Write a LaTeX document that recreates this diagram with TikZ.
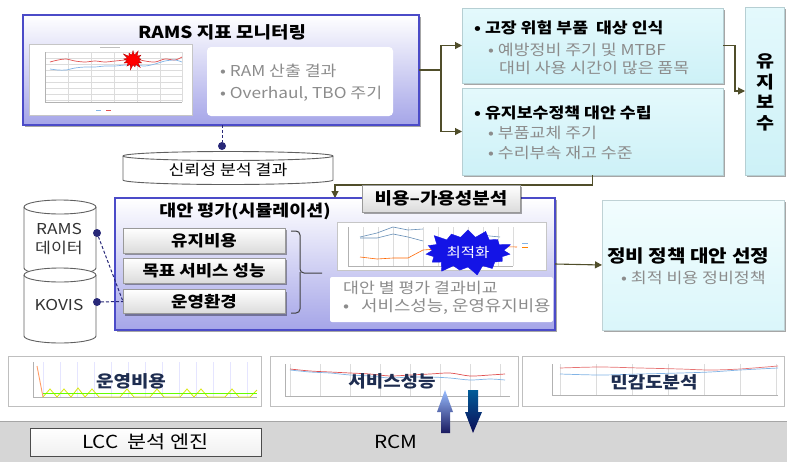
\documentclass[tikz,border=0pt]{standalone}
\usepackage{fontspec}
\setmainfont{Noto Sans CJK KR}[FakeStretch=1.15]
\usetikzlibrary{arrows.meta,shapes.symbols,shadows,calc}
\definecolor{bluebd}{RGB}{75,75,200}
\definecolor{lav}{RGB}{165,165,232}
\definecolor{cyanA}{RGB}{228,249,252}
\definecolor{cyanB}{RGB}{205,241,247}
\definecolor{cyanC}{RGB}{242,253,254}
\definecolor{cyanD}{RGB}{218,246,250}
\definecolor{olive}{RGB}{80,78,42}
\definecolor{navy}{RGB}{40,40,120}
\definecolor{graytxt}{RGB}{140,140,140}
\definecolor{paneltxt}{RGB}{30,45,80}
\definecolor{barbg}{RGB}{214,214,214}
\definecolor{gridc}{RGB}{220,220,220}
\definecolor{redl}{RGB}{225,80,80}
\definecolor{bluel}{RGB}{130,180,230}
\definecolor{burstblue}{RGB}{20,20,230}
\tikzset{
  rg/.style={font=\fontsize{#1}{#1}\selectfont, inner sep=0pt},
  bft/.style={font=\fontsize{#1}{#1}\selectfont\bfseries, inner sep=0pt},
  shad/.style={drop shadow={shadow xshift=2pt,shadow yshift=-2pt,opacity=.35,fill=black}},
  bluebox/.style={draw=bluebd, line width=1.2pt, top color=white, bottom color=lav, inner sep=0pt, outer sep=0pt, shad},
  cyanbox/.style={draw=cyanB!70!gray, line width=.3pt, top color=cyanA, bottom color=cyanB, inner sep=0pt, outer sep=0pt, shad},
  cyanbox2/.style={draw=cyanD!70!gray, line width=.3pt, top color=cyanC, bottom color=cyanD, inner sep=0pt, outer sep=0pt, shad},
  graybox/.style={draw=gray!80, line width=.6pt, top color=white, bottom color=gray!28, inner sep=0pt, outer sep=0pt, shad},
  whitebox/.style={fill=white, rounded corners=4pt, inner sep=0pt, outer sep=0pt},
  chartbox/.style={draw=gray!45, fill=white, line width=.5pt, inner sep=0pt, outer sep=0pt},
  panel/.style={draw=gray!50, fill=white, line width=.6pt, inner sep=0pt, outer sep=0pt},
  conn/.style={draw=olive, line width=1.1pt},
  arr/.style={conn, -{Triangle[length=7pt,width=7pt]}},
  dashconn/.style={draw=navy, line width=1pt, dash pattern=on 3pt off 2pt},
  dotn/.style={circle, fill=navy, inner sep=0pt, minimum size=8pt, outer sep=0pt},
  cylst/.style={draw=gray!75!black, line width=.9pt, fill=white},
  gridl/.style={draw=gridc, line width=.3pt},
}
\newcommand\mycyl[5]{% cx, top, bottom, rx, ry
  \path[cylst] (#1-#4,#2) -- (#1-#4,#3) arc[start angle=180,end angle=0,x radius=#4,y radius=#5]
     -- (#1+#4,#2) arc[start angle=0,end angle=-180,x radius=#4,y radius=#5] -- cycle;
  \draw[cylst, fill=none] (#1-#4,#2) arc[start angle=180,end angle=0,x radius=#4,y radius=#5];
}
\begin{document}
\begin{tikzpicture}[x=1pt,y=-1pt]
\useasboundingbox (0,0) rectangle (787,461);

% ---------------- RAMS monitoring box
\node[bluebox, minimum width=396, minimum height=110] (rams) at (221,70) {};
\node[bft=16.5] (ramsT) at (222,32) {RAMS 지표 모니터링};
\node[chartbox, minimum width=163, minimum height=71] (ch1) at (110.5,79.5) {};
\foreach \x in {45,68,91,114,137,160,182} \draw[gridl] (\x,52) -- (\x,102);
\foreach \y in {52,58,64,70,76,82,88,94,100} \draw[gridl] (45,\y) -- (182,\y);
\draw[gray!60, line width=.3pt] (45,52) -- (45,102) -- (182,102);
\draw[redl, line width=.7pt] plot[smooth] coordinates {(50,62)(58,60)(66,59)(75,61)(85,62)(95,61)(105,62)(115,61)(125,60)(135,59)(145,61)(155,62)(165,59)(175,60)(182,57)};
\draw[bluel, line width=.7pt] plot[smooth] coordinates {(50,69)(58,70)(66,70)(75,68)(85,67)(95,67)(105,66)(115,66)(125,65)(135,65)(145,66)(155,64)(165,61)(175,60)(182,62)};
\draw[bluel, line width=.6pt] (96,110) -- (101,110);
\draw[redl, line width=.6pt] (106,110) -- (111,110);
\draw[gray!50, line width=.5pt] (100,47) -- (120,47);
\node[starburst, fill=red, draw=red!70!black, line width=.3pt, minimum width=24pt, minimum height=22pt, starburst point height=6pt, starburst points=13] (burst1) at (133,60) {};
\node[whitebox, minimum width=186, minimum height=69] (ramsW) at (300,81.5) {};
\node[rg=15, text=graytxt, anchor=west] (ramsA) at (220,71) {• RAM 산출 결과};
\node[rg=15, text=graytxt, anchor=west] (ramsB) at (220,94) {• Overhaul, TBO 주기};

% dot + reliability cylinder
\node[dotn] (d0) at (222,146) {};
\draw[dashconn] (d0 |- rams.south) -- (d0);
\mycyl{228}{156}{180}{105}{4.5}
\node[rg=15] (rel) at (228,170) {신뢰성 분석 결과};

% ---------------- right top boxes
\node[cyanbox, minimum width=261, minimum height=75] (top) at (592.5,45.5) {};
\node[cyanbox, minimum width=261, minimum height=87] (bot) at (592.5,131.5) {};
\node[cyanbox, minimum width=39, minimum height=168] (ujb) at (764.5,91) {};
\node[bft=15, anchor=west] (topA) at (474,28) {• 고장 위험 부품 \ 대상 인식};
\node[rg=15, text=graytxt, anchor=west] (topB) at (488,50) {• 예방정비 주기 및 MTBF};
\node[rg=15, text=graytxt, anchor=west] (topC) at (499,68) {대비 사용 시간이 많은 품목};
\node[bft=15, anchor=west] (botA) at (474,113) {• 유지보수정책 대안 수립};
\node[rg=15, text=graytxt, anchor=west] (botB) at (488,133) {• 부품교체 주기};
\node[rg=15, text=graytxt, anchor=west] (botC) at (488,153) {• 수리부속 재고 수준};
\node[bft=17] (u1) at (765,61) {유};
\node[bft=17] (u2) at (765,82) {지};
\node[bft=17] (u3) at (765,102) {보};
\node[bft=17] (u4) at (765,123) {수};

% connectors top
\coordinate (br) at (441,70);
\draw[conn] (rams.east) -- (br);
\draw[arr] (br) |- (top.west);
\draw[arr] (br) |- (bot.west);
\draw[arr] (top.east) -- ++(12,0) |- (ujb.west);
\coordinate (evalin) at (335,198);
\draw[arr] (bot.south) -- ++(0,10) -| (evalin);

% ---------------- evaluation box
\node[bluebox, minimum width=440, minimum height=132] (eval) at (335,264) {};
\node[graybox, minimum width=158, minimum height=27] (cost) at (441,198.5) {};
\node[bft=16.5] (costT) at (441,198.5) {비용–가용성분석};
\node[bft=16] (evalT) at (245,211) {대안 평가(시뮬레이션)};
\node[graybox, minimum width=162, minimum height=25] (s1) at (204,240.5) {};
\node[graybox, minimum width=162, minimum height=25] (s2) at (204,270.5) {};
\node[graybox, minimum width=162, minimum height=24] (env) at (204,301.5) {};
\node[bft=15.5] at (s1) {유지비용};
\node[bft=15.5] at (s2) {목표 서비스 성능};
\node[bft=15.5] at (env) {운영환경};
\draw[black!75, line width=1pt, rounded corners=4pt] (291,231) -- (300,231) -- (300,273) -- (322,273);
\draw[black!75, line width=1pt, rounded corners=4pt] (300,272) -- (300,313) -- (291,313);
% chart in eval
\node[chartbox, minimum width=209, minimum height=48] (ch2) at (441.5,246) {};
\foreach \x in {348,363,378,393,408,423,438,453,468,483,498,513} \draw[gridl] (\x,227) -- (\x,266);
\draw[gray!60, line width=.3pt] (348,227) -- (348,266) -- (513,266);
\draw[bluel!80!black, line width=.6pt] (360,237) -- (377,233) -- (393,227) -- (408,230) -- (423,229);
\draw[bluel!80!black, line width=.6pt] (360,238) -- (377,238) -- (393,234) -- (408,237) -- (423,241);
\draw[orange!80!red, line width=.6pt] (360,257) -- (377,259) -- (393,258) -- (408,258) -- (423,250) -- (480,246) -- (517,247);
\draw[bluel!80!black, line width=.6pt] (480,235) -- (500,237);
\draw[bluel, line width=.6pt] (522,243) -- (528,243);
\draw[orange, line width=.6pt] (522,247) -- (528,247);
\node[starburst, fill=burstblue, draw=burstblue, minimum width=92pt, minimum height=50pt, starburst point height=10pt, starburst points=15] (burst2) at (468,252) {};
\node[rg=13.5, text=white] (opt) at (468,252) {최적화};
\node[whitebox, rounded corners=2pt, minimum width=223, minimum height=45] (evalW) at (441.5,299.5) {};
\node[rg=15, text=graytxt, anchor=west] (evalA) at (343,288) {대안 별 평가 결과비교};
\node[rg=15.5, text=graytxt, anchor=west] (evalB) at (343,307) {• \ \ 서비스성능, 운영유지비용};

% ---------------- cylinders
\mycyl{60}{207}{268}{36}{7}
\mycyl{60}{275}{336}{36}{7}
\node[rg=15, text=black!80] (cR1) at (59,229) {RAMS};
\node[rg=15, text=black!80] (cR2) at (59,248) {데이터};
\node[rg=15, text=black!80] (cK) at (59,305) {KOVIS};
\node[dotn] (d1) at (97,233) {};
\node[dotn] (d2) at (97,302) {};
\draw[dashconn] (d1) -- (env.west);
\draw[dashconn] (d2) -- (env.west);

% ---------------- policy box
\node[cyanbox2, minimum width=182, minimum height=130] (pol) at (693,265) {};
\draw[arr] (eval.east) -- (pol.west);
\node[bft=17.5, anchor=west] (polA) at (607,256) {정비 정책 대안 선정};
\node[rg=15, text=graytxt, anchor=west] (polB) at (621,278) {• 최적 비용 정비정책};

% ---------------- bottom panels
\node[panel, minimum width=253, minimum height=50] (p1) at (134.5,381) {};
\node[panel, minimum width=248, minimum height=50] (p2) at (394,381) {};
\node[panel, minimum width=262, minimum height=50] (p3) at (653,381) {};
% p1 chart
\foreach \x in {43,60,77,94,111,128,145,162,179,196,213,230,247} \draw[gridl, draw=blue!10] (\x,362) -- (\x,397);
\draw[gray!60, line width=.3pt] (33,362) -- (33,397) -- (257,397);
\draw[orange!70!red!60, line width=.9pt] (37,366) -- (43,397);
\draw[yellow!85!green, line width=.8pt] (43,397) -- (50,389) -- (57,397) -- (64,389) -- (71,397) -- (78,388) -- (85,397) -- (92,389) -- (99,397) -- (120,397) -- (127,389) -- (134,397) -- (150,397) -- (157,389) -- (164,397) -- (180,397) -- (187,389) -- (194,397) -- (201,389) -- (208,397) -- (225,397) -- (232,389) -- (239,397) -- (250,397) -- (257,390);
\draw[green!60!yellow, line width=.6pt] (43,393) -- (257,393);
% p2 chart
\foreach \x in {290,320,350,380,410,440,470,500} \draw[gridl] (\x,364) -- (\x,396);
\draw[gray!60, line width=.3pt] (285,364) -- (285,396) -- (510,396);
\draw[redl, line width=.7pt] plot[smooth] coordinates {(290,369)(310,371)(330,372)(350,373)(370,374)(390,376)(410,375)(430,374)(450,373)(470,376)(490,375)(505,374)};
\draw[bluel, line width=.7pt] plot[smooth] coordinates {(290,370)(310,372)(330,373)(350,375)(370,376)(390,378)(410,377)(430,377)(450,378)(470,380)(490,379)(505,380)};
% p3 chart
\foreach \x in {560,596,632,668,704,740,776} \draw[gridl] (\x,364) -- (\x,395);
\draw[gray!60, line width=.3pt] (552,364) -- (552,395) -- (778,395);
\draw[redl!80, line width=.7pt] plot[smooth] coordinates {(560,368)(600,367)(640,368)(680,369)(710,370)(740,369)(778,366)};
\draw[bluel, line width=.7pt] plot[smooth] coordinates {(560,374)(600,375)(640,374)(680,373)(710,372)(740,370)(778,368)};
\node[bft=16.5, text=paneltxt] (p1T) at (131,381) {운영비용};
\node[bft=16.5, text=paneltxt] (p2T) at (392,381) {서비스성능};
\node[bft=16.5, text=paneltxt] (p3T) at (654,382) {민감도분석};

% ---------------- bottom bar
\node[fill=barbg, draw=gray!70, line width=.6pt, minimum width=789, minimum height=41, inner sep=0pt, outer sep=0pt] (bar) at (393.5,441.5) {};
\node[draw=black!70, line width=.8pt, top color=white, bottom color=gray!12, minimum width=231, minimum height=28, inner sep=0pt] (lcc) at (145.5,442) {};
\node[rg=18] (lccT) at (145.5,442) {LCC \ 분석 엔진};
\node[rg=18] (rcm) at (396,442) {RCM};
% up/down arrows
\shade[top color=cyan!35!blue!40, bottom color=blue!30!black!90] (445,390) -- (453,412) -- (450,412) -- (450,433) -- (441,433) -- (441,412) -- (437,412) -- cycle;
\shade[top color=blue!40!cyan!60!black, bottom color=blue!30!black!95] (468,390) -- (478,390) -- (478,412) -- (482,412) -- (473,433) -- (465,412) -- (468,412) -- cycle;
\end{tikzpicture}
\end{document}
